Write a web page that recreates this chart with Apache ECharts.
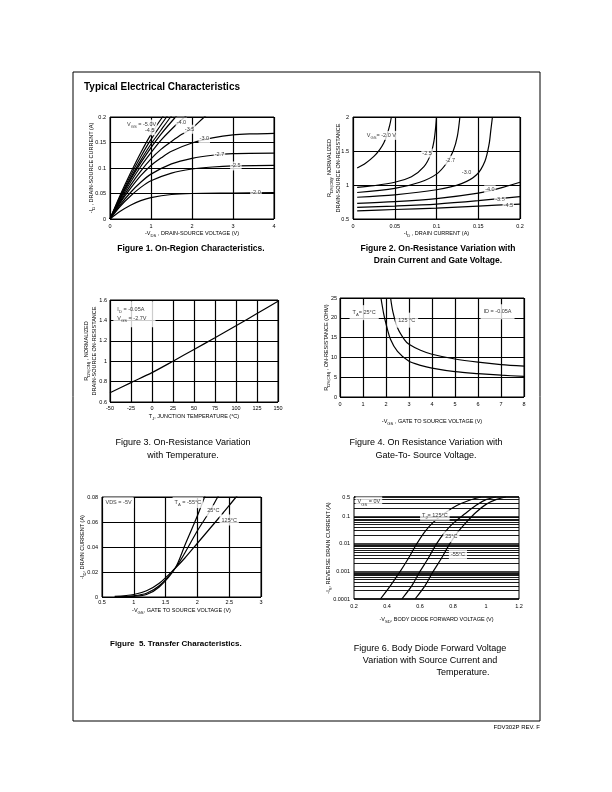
<!DOCTYPE html>
<html><head><meta charset="utf-8">
<script src="https://cdn.jsdelivr.net/npm/echarts@6/dist/echarts.min.js"></script>
<style>html,body{margin:0;padding:0;background:#fff}#c{width:612px;height:792px}</style>
</head><body><div id="c"></div>
<script>
// ---------- Figure 1: On-region characteristics ([-VDS, -ID]) ----------
const f1_m50 = [[0,0],[0.25,0.047],[0.5,0.09],[0.75,0.13],[1.0,0.166],[1.28,0.2],[1.4,0.212]];
const f1_m45 = [[0,0],[0.25,0.044],[0.5,0.085],[0.75,0.122],[1.0,0.156],[1.38,0.2],[1.5,0.212]];
const f1_u1  = [[0,0],[0.25,0.042],[0.5,0.08],[0.75,0.115],[1.0,0.147],[1.25,0.175],[1.48,0.2],[1.6,0.211]];
const f1_u2  = [[0,0],[0.25,0.04],[0.5,0.077],[0.75,0.11],[1.0,0.14],[1.25,0.167],[1.6,0.2],[1.7,0.208]];
const f1_m40 = [[0,0],[0.25,0.037],[0.5,0.072],[0.75,0.103],[1.0,0.13],[1.25,0.155],[1.5,0.176],[1.78,0.197],[1.9,0.205]];
const f1_m35 = [[0,0],[0.25,0.034],[0.5,0.066],[0.75,0.094],[1.0,0.118],[1.25,0.137],[1.5,0.152],[1.75,0.166],[2.0,0.178],[2.3,0.2],[2.5,0.212]];
const f1_m30 = [[0,0],[0.25,0.032],[0.5,0.06],[0.75,0.085],[1.0,0.105],[1.25,0.12],[1.5,0.133],[2.0,0.149],[2.5,0.159],[3.0,0.165],[3.5,0.167],[4,0.168]];
const f1_m27 = [[0,0],[0.25,0.028],[0.5,0.052],[0.75,0.072],[1.0,0.088],[1.5,0.108],[2.0,0.119],[2.5,0.125],[3.0,0.128],[4,0.129]];
const f1_m25 = [[0,0],[0.25,0.025],[0.5,0.045],[0.75,0.062],[1.0,0.075],[1.5,0.09],[2.0,0.098],[2.5,0.102],[3.0,0.104],[4,0.105]];
const f1_m20 = [[0,0],[0.25,0.015],[0.5,0.027],[0.75,0.036],[1.0,0.042],[1.5,0.048],[2.0,0.05],[3.0,0.051],[4,0.052]];
const f1_labels = [[0.77,0.186,'V{s|GS} = -5.0V'],[0.97,0.173,'-4.5'],[1.74,0.19,'-4.0'],[1.94,0.176,'-3.5'],[2.3,0.157,'-3.0'],[2.67,0.127,'-2.7'],[3.07,0.104,'-2.5'],[3.56,0.052,'-2.0']];

// ---------- Figure 2: normalized RDS(on) vs -ID ----------
const f2_m20 = [[0.005,1.25],[0.015,1.32],[0.025,1.42],[0.032,1.52],[0.037,1.62],[0.041,1.75],[0.044,1.88],[0.046,2.0]];
const f2_m25 = [[0.005,0.965],[0.025,0.99],[0.05,1.04],[0.07,1.12],[0.085,1.27],[0.093,1.45],[0.097,1.65],[0.099,1.85],[0.1,2.0]];
const f2_m27 = [[0.005,0.89],[0.05,0.95],[0.08,1.04],[0.1,1.16],[0.112,1.32],[0.12,1.5],[0.125,1.72],[0.128,2.0]];
const f2_m30 = [[0.005,0.82],[0.05,0.855],[0.1,0.93],[0.13,1.02],[0.148,1.15],[0.158,1.35],[0.163,1.6],[0.165,1.8],[0.167,2.0]];
const f2_m40 = [[0.005,0.73],[0.05,0.755],[0.1,0.8],[0.15,0.88],[0.175,0.95],[0.2,1.04]];
const f2_m35 = [[0.005,0.67],[0.05,0.69],[0.1,0.72],[0.15,0.77],[0.2,0.83]];
const f2_m45 = [[0.005,0.62],[0.05,0.64],[0.1,0.66],[0.15,0.69],[0.2,0.72]];
const f2_labels = [[0.034,1.73,'V{s|GS}= -2.0 V'],[0.0887,1.47,'-2.5'],[0.1165,1.365,'-2.7'],[0.136,1.18,'-3.0'],[0.164,0.93,'-4.0'],[0.176,0.79,'-3.5'],[0.186,0.705,'-4.5']];

// ---------- Figure 3: normalized RDS(on) vs TJ ----------
const f3_temp = [-50,-25,0,25,50,75,100,125,150];
const f3_r    = [0.69,0.79,0.888,1.0,1.115,1.23,1.348,1.467,1.588];
const f3_labels = [[-46,1.46,'I{s|D} = -0.05A\nV{s|GS} = -2.7V']];

// ---------- Figure 4: RDS(on) vs -VGS ----------
const f4_25  = [[1.78,25],[1.9,21],[2.0,18.5],[2.2,14.5],[2.5,11.5],[3.0,9.0],[3.5,8.0],[4,7.3],[5,6.4],[6,5.9],[7,5.5],[8,5.2]];
const f4_125 = [[2.2,25],[2.3,21.5],[2.5,17.5],[2.8,14.5],[3.0,13.3],[3.5,11.8],[4,10.8],[5,9.6],[6,8.8],[7,8.2],[8,7.8]];
const f4_labels = [[1.05,21.3,'T{s|A}= 25°C'],[2.9,19.4,'125 °C'],[6.85,21.5,'ID = -0.05A']];

// ---------- Figure 5: transfer characteristics ----------
const f5_m55 = [[0.75,0],[1.0,0.0005],[1.2,0.002],[1.4,0.008],[1.65,0.023],[1.8,0.041],[2.0,0.065],[2.09,0.077],[2.15,0.085]];
const f5_25  = [[0.7,0],[1.0,0.001],[1.2,0.003],[1.4,0.009],[1.65,0.023],[1.8,0.035],[2.0,0.053],[2.2,0.069],[2.32,0.08],[2.4,0.086]];
const f5_125 = [[0.7,0.0005],[1.0,0.002],[1.2,0.005],[1.4,0.011],[1.65,0.023],[1.8,0.031],[2.0,0.043],[2.2,0.055],[2.4,0.067],[2.61,0.08],[2.7,0.085]];
const f5_labels = [[0.76,0.0755,'VDS = -5V'],[1.85,0.0755,'T{s|A} = -55°C'],[2.25,0.069,'25°C'],[2.5,0.0616,'125°C']];

// ---------- Figure 6: body diode forward voltage (log current) ----------
const f6_125 = [[0.36,1e-4],[0.42,3e-4],[0.48,1e-3],[0.53,3e-3],[0.58,0.01],[0.63,0.028],[0.68,0.06],[0.75,0.13],[0.82,0.24],[0.9,0.38],[0.97,0.5]];
const f6_25  = [[0.49,1e-4],[0.55,3e-4],[0.6,1e-3],[0.65,3e-3],[0.7,0.01],[0.75,0.026],[0.8,0.055],[0.87,0.12],[0.94,0.25],[1.0,0.4],[1.06,0.5]];
const f6_m55 = [[0.57,1e-4],[0.63,3e-4],[0.68,1e-3],[0.73,3e-3],[0.78,0.01],[0.83,0.027],[0.88,0.06],[0.94,0.14],[1.0,0.27],[1.06,0.4],[1.12,0.5]];
const f6_labels = [[0.29,0.33,'V{s|GS} = 0V'],[0.69,0.11,'T{s|J}= 125°C'],[0.79,0.018,'25°C'],[0.83,0.0041,'-55°C']];
const f6_yTicks = [0.0001,0.001,0.01,0.1,0.5];
const f6_minorMult = [2,3,4,5,6,7,8,9];
const f6_decades = [0.0001,0.001,0.01,0.1];

// ---------- build ----------
const FONT = '"Liberation Sans", Arial, sans-serif';
const rich = {s:{fontSize:4.2, verticalAlign:'bottom', lineHeight:9, fontFamily:FONT}};
const grids = [
  {left:110, top:117, width:164, height:102},
  {left:353, top:117, width:167, height:102},
  {left:110, top:300, width:168, height:102},
  {left:340, top:298, width:184, height:99},
  {left:102, top:497, width:159, height:100},
  {left:354, top:497, width:165, height:102}
].map(g => Object.assign({show:true, borderColor:'#000', borderWidth:1, containLabel:false}, g));

const lbl = m => ({fontSize:5.5, color:'#000', fontFamily:FONT, margin:m});
function axis(i, o){
  return Object.assign({
    gridIndex:i, type:'value', axisLine:{show:false}, axisTick:{show:false},
    splitLine:{show:true, lineStyle:{color:'#000', width:1.2}},
    axisLabel:lbl(4),
    nameLocation:'middle', nameMoveOverlap:false,
    nameTextStyle:{fontSize:5.5, color:'#000', fontFamily:FONT, rich:rich, lineHeight:8}
  }, o);
}
const xAxes = [
  axis(0,{min:0,max:4,interval:1,name:'-V{s|DS} , DRAIN-SOURCE VOLTAGE (V)',nameGap:10}),
  axis(1,{min:0,max:0.2,interval:0.05,name:'-I{s|D} , DRAIN CURRENT (A)',nameGap:10}),
  axis(2,{min:-50,max:150,interval:25,name:'T{s|J}, JUNCTION TEMPERATURE (°C)',nameGap:9.5,axisLabel:lbl(3)}),
  axis(3,{min:0,max:8,interval:1,name:'-V{s|GS} , GATE TO SOURCE VOLTAGE (V)',nameGap:20}),
  axis(4,{min:0.5,max:3,interval:0.5,name:'-V{s|GS}, GATE TO SOURCE VOLTAGE (V)',nameGap:9,axisLabel:lbl(2.5)}),
  axis(5,{min:0.2,max:1.2,interval:0.2,name:'-V{s|SD}, BODY DIODE FORWARD VOLTAGE (V)',nameGap:16,splitLine:{show:false}})
];
const yAxes = [
  axis(0,{min:0,max:0.2,interval:0.05,name:'-I{s|D} , DRAIN-SOURCE CURRENT (A)',nameGap:14}),
  axis(1,{min:0.5,max:2,interval:0.5,name:'R{s|DS(ON)}, NORMALIZED\nDRAIN-SOURCE ON-RESISTANCE',nameGap:11}),
  axis(2,{min:0.6,max:1.6,interval:0.2,name:'R{s|DS(ON)} , NORMALIZED\nDRAIN-SOURCE ON-RESISTANCE',nameGap:11.5,axisLabel:lbl(3)}),
  axis(3,{min:0,max:25,interval:5,name:'R{s|DS(ON)} , ON-RESISTANCE (OHM)',nameGap:9.5,axisLabel:lbl(3)}),
  axis(4,{min:0,max:0.08,interval:0.02,name:'-I{s|D}, DRAIN CURRENT (A)',nameGap:15.5}),
  axis(5,{min:-4,max:Math.log10(0.5),interval:1,name:'-I{s|S}, REVERSE DRAIN CURRENT (A)',nameGap:21,
    splitLine:{show:true,lineStyle:{color:'#000',width:1.5}},
    axisLabel:Object.assign(lbl(4),{
      formatter:v => { const t = f6_yTicks.find(k => Math.abs(Math.log10(k)-v) < 1e-6); return t === undefined ? '' : String(t); }})})
];

function line(i, data, extra){
  return Object.assign({type:'line', xAxisIndex:i, yAxisIndex:i, data:data, symbol:'none', showSymbol:false,
    smooth:0.3, lineStyle:{color:'#000', width:1.2}, silent:true, animation:false, z:3}, extra||{});
}
function labels(i, items, align, pad){
  return {type:'scatter', xAxisIndex:i, yAxisIndex:i, symbolSize:1, itemStyle:{color:'rgba(0,0,0,0)'},
    data: items.map(t => ({value:[t[0],t[1]], name:t[2]})), silent:true, animation:false, z:6,
    label:{show:true, position:'inside', align:align||'center', formatter:p=>p.name, color:'#000', fontSize:5.5,
      fontFamily:FONT, lineHeight:9, backgroundColor:'#fff', padding:pad||[0,1], rich:rich}};
}
const lg = d => d.map(p => [p[0], Math.log10(p[1])]);

const minorVals = [];
f6_decades.forEach(d => f6_minorMult.forEach(m => { const v = Math.log10(m*d); if (v < Math.log10(0.5)+1e-9) minorVals.push(v); }));

const series = [
  ...[f1_m50,f1_m45,f1_u1,f1_u2,f1_m40,f1_m35,f1_m30,f1_m27,f1_m25,f1_m20].map(d => line(0,d)),
  labels(0,f1_labels),
  ...[f2_m20,f2_m25,f2_m27,f2_m30,f2_m40,f2_m35,f2_m45].map(d => line(1,d)),
  labels(1,f2_labels),
  line(2, f3_temp.map((t,k)=>[t,f3_r[k]])),
  labels(2,f3_labels,'left',[4,9,4,4]),
  line(3,f4_25), line(3,f4_125),
  labels(3,f4_labels,null,[3,3,3,3]),
  line(4,f5_m55), line(4,f5_25), line(4,f5_125),
  labels(4,f5_labels,null,[1,2,1,2]),
  line(5,lg(f6_125),{markLine:{symbol:'none',silent:true,animation:false,label:{show:false},
    lineStyle:{color:'#000',width:0.9,type:'solid'}, data:minorVals.map(v=>({yAxis:v}))}}),
  line(5,lg(f6_25)), line(5,lg(f6_m55)),
  labels(5,f6_labels.map(t=>[t[0],Math.log10(t[1]),t[2]]),null,[1,2,1,2])
];

const txt = (x,y,text,o) => ({type:'text', x:x, y:y, silent:true,
  style:Object.assign({text:text, fill:'#000', font:'9px '+FONT, textAlign:'center', textVerticalAlign:'middle'}, o||{})});
const graphic = [
  {type:'rect', shape:{x:73,y:72,width:467,height:649}, style:{fill:'none',stroke:'#000',lineWidth:1}, silent:true},
  txt(84,87,'Typical Electrical Characteristics',{font:'bold 10px '+FONT,textAlign:'left'}),
  txt(191,249,'Figure 1. On-Region Characteristics.',{font:'bold 8.5px '+FONT}),
  txt(438,249,'Figure 2. On-Resistance Variation with',{font:'bold 8.5px '+FONT}),
  txt(438,261,'Drain Current and Gate Voltage.',{font:'bold 8.5px '+FONT}),
  txt(183,443,'Figure 3. On-Resistance Variation'),
  txt(183,456,'with Temperature.'),
  txt(426,443,'Figure 4. On Resistance Variation with'),
  txt(426,456,'Gate-To- Source Voltage.'),
  txt(110,644,'Figure  5. Transfer Characteristics.',{font:'bold 8px '+FONT,textAlign:'left'}),
  txt(430,649,'Figure 6. Body Diode Forward Voltage'),
  txt(430,661,'Variation with Source Current and'),
  txt(463,673,'Temperature.'),
  txt(540,727,'FDV302P REV. F',{font:'6px '+FONT,textAlign:'right'})
];

const chart = echarts.init(document.getElementById('c'), null, {renderer:'canvas'});
chart.setOption({animation:false, backgroundColor:'#fff', grid:grids, xAxis:xAxes, yAxis:yAxes, series:series, graphic:graphic});
</script></body></html>
